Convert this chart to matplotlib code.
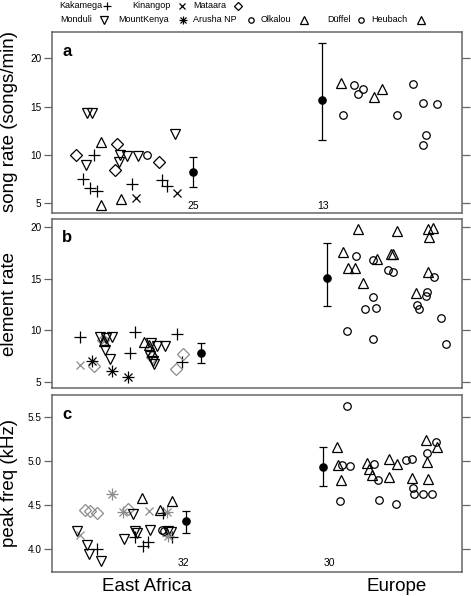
import matplotlib
matplotlib.use("Agg")
import matplotlib.pyplot as plt
from matplotlib.lines import Line2D
import matplotlib.transforms as mtransforms

plt.rcParams['font.family'] = ['Liberation Sans', 'DejaVu Sans']

W, H = 471, 596

# ---------------- data ----------------
pop_codes = ['KAK', 'KIN', 'MAT', 'MON', 'MTK', 'ARU', 'OLK', 'DUF', 'HEU']
pop_labels = ['Kakamega', 'Kinangop', 'Mataara', 'Monduli', 'MountKenya',
              'Arusha NP', 'Olkalou', 'Düffel', 'Heubach']

region_labels = ['East Africa', 'Europe']
region_pos = [147, 397]

# panel a: song rate (songs/min)
a_pop = ['MON', 'MON', 'OLK', 'MAT', 'MAT', 'KAK', 'MON', 'MON', 'MON', 'MON',
         'ARU', 'MON', 'MAT', 'MAT', 'MON', 'KAK', 'KAK', 'KAK', 'OLK', 'OLK',
         'KIN', 'KAK', 'KAK', 'KAK', 'KIN',
         'HEU', 'DUF', 'DUF', 'DUF', 'HEU', 'HEU', 'DUF', 'DUF', 'DUF', 'DUF',
         'DUF', 'DUF', 'DUF']
a_x = [86.7, 92.3, 100.7, 116.7, 76.0, 94.0, 86.0, 120.0, 126.7, 138.3,
       147.3, 119.3, 115.0, 159.3, 175.0, 82.7, 90.0, 96.7, 100.7, 120.7,
       136.0, 131.7, 161.7, 166.7, 176.7,
       340.7, 354.0, 363.3, 358.3, 381.7, 374.0, 342.7, 396.7, 412.7, 422.7,
       436.7, 426.0, 422.7]
a_val = [14.28, 14.38, 11.34, 11.17, 9.96, 9.96, 8.93, 9.96, 9.89, 9.89,
         9.96, 9.27, 8.41, 9.27, 12.21, 7.55, 6.62, 6.27, 4.79, 5.48,
         5.55, 6.96, 7.38, 6.76, 6.07,
         17.38, 17.20, 16.79, 16.27, 16.76, 15.99, 14.17, 14.17, 17.31, 15.41,
         15.24, 12.10, 11.07]

# panel b: element rate
b_pop = ['KAK', 'KAK', 'KAK', 'KAK', 'KAK', 'MTK', 'MTK', 'MTK', 'KIN', 'KIN',
         'KIN', 'MAT', 'MAT', 'MAT', 'MAT', 'MAT', 'MON', 'MON', 'MON', 'MON',
         'MON', 'MON', 'MON', 'MON', 'MON', 'MON', 'MON', 'OLK', 'OLK', 'OLK',
         'OLK',
         'HEU', 'HEU', 'HEU', 'HEU', 'HEU', 'HEU', 'DUF', 'DUF', 'HEU', 'HEU',
         'HEU', 'HEU', 'HEU', 'DUF', 'DUF', 'HEU', 'HEU', 'DUF', 'HEU', 'DUF',
         'DUF', 'DUF', 'DUF', 'DUF', 'DUF', 'DUF', 'DUF', 'DUF', 'DUF', 'DUF']
b_x = [80, 135, 130, 177, 182, 92, 112, 128, 80, 104,
       150, 94, 103, 176, 183, 152, 100, 106, 112, 105,
       110, 151, 157, 165, 150, 153, 154, 104, 144, 149,
       152,
       358.3, 396.7, 428.3, 433.3, 429.3, 343.3, 356.0, 372.7, 376.7, 391.0,
       393.3, 348.3, 355.0, 388.3, 392.7, 363.3, 428.3, 434.0, 416.0, 426.7,
       426.0, 417.3, 419.3, 372.7, 365.0, 375.7, 440.7, 347.3, 372.7, 446.0]
b_val = [9.35, 9.87, 7.82, 9.65, 6.97, 7.06, 6.10, 5.45, 6.65, 9.0,
         8.6, 6.6, 9.1, 6.23, 7.71, 7.4, 9.35, 9.25, 9.35, 8.1,
         7.2, 8.75, 8.5, 8.45, 7.5, 7.0, 6.75, 9.0, 8.9, 8.6,
         7.9,
         19.84, 19.68, 19.84, 19.90, 19.04, 17.58, 17.20, 16.78, 16.94, 17.42,
         17.42, 16.06, 16.06, 15.81, 15.65, 14.61, 15.65, 15.16, 13.64, 13.71,
         13.33, 12.42, 12.10, 13.23, 12.03, 12.16, 11.20, 9.91, 9.13, 8.71]

# panel c: peak freq (kHz)
c_pop = ['MTK', 'MAT', 'MAT', 'MAT', 'OLK', 'OLK', 'MAT', 'MTK', 'MON', 'KIN',
         'OLK', 'MTK', 'KAK', 'MON', 'KIN', 'MON', 'MON', 'KAK', 'MON', 'MON',
         'MON', 'MON', 'KAK', 'MON', 'KAK', 'KAK', 'ARU', 'ARU', 'MON', 'MON',
         'MTK', 'KAK',
         'DUF', 'HEU', 'HEU', 'DUF', 'DUF', 'HEU', 'DUF', 'HEU', 'DUF', 'HEU',
         'HEU', 'DUF', 'HEU', 'HEU', 'HEU', 'DUF', 'DUF', 'DUF', 'DUF', 'HEU',
         'HEU', 'DUF', 'DUF', 'DUF', 'DUF', 'HEU', 'DUF', 'HEU', 'DUF', 'HEU']
c_x = [111.7, 85, 90, 97.3, 141.7, 171.7, 128.3, 122.7, 132.7, 149.3,
       160, 166.7, 163.3, 77.3, 80, 86.7, 89.3, 96.7, 100.7, 124,
       135, 137, 135, 150, 148.3, 143.3, 161.7, 163.5, 168.3, 171,
       168.3, 171.7,
       346.7, 337.3, 338.3, 342.3, 350.0, 340.7, 340.0, 367.3, 374.3, 369.3,
       371.7, 378.3, 389.3, 397.3, 389.3, 405.7, 411.7, 379.0, 395.7, 411.7,
       428.3, 412.7, 414.3, 423.3, 432.3, 426.0, 436.0, 437.3, 426.7, 427.3]
c_val = [4.63, 4.44, 4.435, 4.41, 4.58, 4.55, 4.46, 4.42, 4.40, 4.43,
         4.44, 4.42, 4.41, 4.20, 4.16, 4.05, 3.94, 4.00, 3.86, 4.11,
         4.20, 4.18, 4.14, 4.22, 4.08, 4.03, 4.22, 4.21, 4.20, 4.19,
         4.15, 4.14,
         5.62, 5.16, 4.95, 4.95, 4.94, 4.78, 4.55, 4.98, 4.97, 4.91,
         4.84, 4.78, 5.02, 4.97, 4.82, 5.01, 5.02, 4.56, 4.51, 4.81,
         4.80, 4.69, 4.63, 4.63, 4.63, 5.24, 5.22, 5.16, 5.09, 4.99]

# group means with interval (low, high)
a_mean_x = [192.7, 321.7]
a_mean = [8.24, 15.65]
a_low = [6.69, 11.59]
a_high = [9.79, 21.58]
b_mean_x = [200.7, 326.7]
b_mean = [7.78, 15.13]
b_low = [6.87, 12.36]
b_high = [8.75, 18.48]
c_mean_x = [186.0, 323.3]
c_mean = [4.318, 4.93]
c_low = [4.18, 4.72]
c_high = [4.435, 5.16]

# sample sizes
a_n = ['25', '13']
a_n_x = [193, 323]
c_n = ['32', '30']
c_n_x = [183, 329]

a_ticks = [5, 10, 15, 20]
b_ticks = [5, 10, 15, 20]
c_ticks = [4.0, 4.5, 5.0, 5.5]
c_ticklabels = ['4.0', '4.5', '5.0', '5.5']

# ---------------- styling ----------------
# MountKenya asterisk = '+' and 'x' superimposed
marker_of = {'KAK': ['+'], 'KIN': ['x'], 'MAT': ['D'], 'MON': ['v'],
             'MTK': ['+', 'x'], 'ARU': ['o'], 'OLK': ['^'], 'DUF': ['o'],
             'HEU': ['^']}
size_of = {'KAK': [8.0], 'KIN': [6.0], 'MAT': [5.8], 'MON': [7.5],
           'MTK': [8.0, 5.7], 'ARU': [5.4], 'OLK': [7.5], 'DUF': [5.4],
           'HEU': [7.5]}
gray_pops = {'a': [], 'b': ['KIN', 'MAT'], 'c': ['KIN', 'MAT', 'MTK']}
SPINE = '#666666'

fig = plt.figure(figsize=(W / 100, H / 100), dpi=100)


def px_axes(top, bottom, left=52, right=462):
    return fig.add_axes([left / W, 1 - bottom / H, (right - left) / W,
                         (bottom - top) / H])


def draw_panel(ax, key, pops, xs, vals, mx, mv, lo, hi, ylim, ticks, ticklabels):
    for code in pop_codes:
        idx = [i for i, p in enumerate(pops) if p == code]
        if not idx:
            continue
        col = '#8c8c8c' if code in gray_pops[key] else 'black'
        for mk, ms in zip(marker_of[code], size_of[code]):
            ax.plot([xs[i] for i in idx], [vals[i] for i in idx],
                    linestyle='none', marker=mk, markersize=ms,
                    markerfacecolor='none', markeredgecolor=col,
                    markeredgewidth=0.9, zorder=3)
    yerr = [[m - l for m, l in zip(mv, lo)], [h - m for m, h in zip(mv, hi)]]
    ax.errorbar(mx, mv, yerr=yerr, fmt='o', color='black', markersize=5.2,
                elinewidth=0.9, capsize=3.2, capthick=0.9, zorder=4)
    ax.set_xlim(52, 462)
    ax.set_ylim(*ylim)
    ax.set_yticks(ticks)
    ax.set_yticklabels(ticklabels)
    ax.tick_params(axis='y', which='both', left=True, right=True,
                   labelleft=True, labelright=False, direction='out',
                   length=5.5, width=0.9, color=SPINE, labelsize=7.2, pad=2)
    ax.tick_params(axis='x', length=0)
    for s in ax.spines.values():
        s.set_color(SPINE)
        s.set_linewidth(1.1)


# panel a
axa = px_axes(32, 213)
draw_panel(axa, 'a', a_pop, a_x, a_val, a_mean_x, a_mean, a_low, a_high,
           (4.0, 22.7), a_ticks, [str(t) for t in a_ticks])
axa.set_xticks([])
trans_a = mtransforms.blended_transform_factory(axa.transData, axa.transAxes)
for xx, t in zip(a_n_x, a_n):
    axa.text(xx, 0.04, t, transform=trans_a, ha='center', va='center',
             fontsize=7.5)

# panel b
axb = px_axes(219, 388)
draw_panel(axb, 'b', b_pop, b_x, b_val, b_mean_x, b_mean, b_low, b_high,
           (4.42, 20.8), b_ticks, [str(t) for t in b_ticks])
axb.set_xticks([])

# panel c
axc = px_axes(395, 572)
draw_panel(axc, 'c', c_pop, c_x, c_val, c_mean_x, c_mean, c_low, c_high,
           (3.74, 5.75), c_ticks, c_ticklabels)
axc.set_xticks(region_pos)
axc.set_xticklabels(region_labels, fontsize=13.5)
axc.tick_params(axis='x', length=0, pad=4)
trans_c = mtransforms.blended_transform_factory(axc.transData, axc.transAxes)
for xx, t in zip(c_n_x, c_n):
    axc.text(xx, 0.05, t, transform=trans_c, ha='center', va='center',
             fontsize=7.5)

# panel letters
for ax, letter in zip([axa, axb, axc], ['a', 'b', 'c']):
    ax.text(0.025, 0.89, letter, transform=ax.transAxes, fontsize=12,
            fontweight='bold', ha='left', va='center')

# y labels
for yc, lab in zip([122, 304, 483],
                   ['song rate (songs/min)', 'element rate', 'peak freq (kHz)']):
    fig.text(10 / W, 1 - yc / H, lab, rotation=90, ha='center', va='center',
             fontsize=13.5)

# legend at top
legend_rows = [
    [('Kakamega', 59, 'KAK', 107), ('Kinangop', 132, 'KIN', 182),
     ('Mataara', 193, 'MAT', 238)],
    [('Monduli', 60, 'MON', 104), ('MountKenya', 118, 'MTK', 183),
     ('Arusha NP', 193, 'ARU', 251), ('Olkalou', 261, 'OLK', 304),
     ('Düffel', 327, 'DUF', 361), ('Heubach', 371, 'HEU', 421)],
]
legend_y = [5.5, 20]
for row, yy in zip(legend_rows, legend_y):
    for name, tx, code, mxp in row:
        fig.text(tx / W, 1 - yy / H, name, ha='left', va='center', fontsize=6.5)
        for mk, ms in zip(marker_of[code], size_of[code]):
            fig.add_artist(Line2D([mxp / W], [1 - yy / H],
                                  transform=fig.transFigure, linestyle='none',
                                  marker=mk, markersize=ms * 0.72,
                                  markerfacecolor='none',
                                  markeredgecolor='black',
                                  markeredgewidth=0.9))

fig.savefig('out.png', dpi=100)
